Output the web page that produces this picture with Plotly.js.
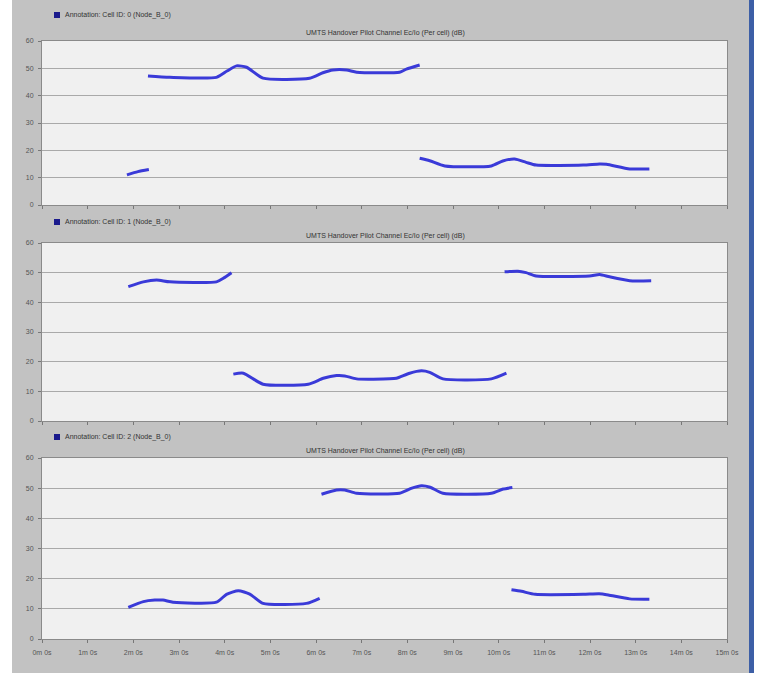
<!DOCTYPE html>
<html>
<head>
<meta charset="utf-8">
<script src="https://cdn.plot.ly/plotly-3.0.1.min.js"></script>
<style>
html,body{margin:0;padding:0;background:#ffffff;}
#chart{width:757px;height:673px;}
</style>
</head>
<body>
<div id="chart"></div>
<script>
// time in minutes, values in dB (null separates segments)
var cell0_t = [1.86, 2.10, 2.34, null,
  2.32, 2.80, 3.82, 4.05, 4.26, 4.48, 4.84, 5.86, 6.15, 6.37, 6.67, 6.89, 7.83, 7.98, 8.27, null,
  8.27, 8.49, 8.82, 9.84, 10.09, 10.35, 10.60, 10.82, 11.85, 12.21, 12.36, 12.87, 13.30];
var cell0_v = [11.0, 12.2, 13.0, null,
  47.2, 46.7, 46.7, 49.0, 50.9, 50.4, 46.4, 46.4, 48.4, 49.4, 49.4, 48.6, 48.6, 49.7, 51.2, null,
  17.1, 16.2, 14.3, 14.3, 16.1, 16.8, 15.6, 14.6, 14.6, 15.0, 14.9, 13.2, 13.2];

var cell1_t = [1.89, 2.22, 2.51, 2.80, 3.82, 3.97, 4.15, null,
  4.19, 4.41, 4.84, 5.83, 6.16, 6.45, 6.63, 6.89, 7.61, 7.76, 8.05, 8.31, 8.49, 8.78, 9.84, 10.17, null,
  10.13, 10.42, 10.60, 10.82, 11.99, 12.21, 12.43, 12.87, 13.34];
var cell1_v = [45.3, 46.9, 47.5, 46.9, 46.9, 48.1, 50.0, null,
  15.8, 16.1, 12.4, 12.4, 14.4, 15.3, 15.2, 14.2, 14.2, 14.4, 16.1, 16.9, 16.4, 14.2, 14.2, 16.1, null,
  50.3, 50.5, 50.0, 48.9, 48.9, 49.4, 48.6, 47.3, 47.3];

var cell2_t = [1.89, 2.22, 2.47, 2.65, 2.87, 3.82, 4.04, 4.30, 4.55, 4.84, 5.79, 6.08, null,
  6.12, 6.45, 6.63, 6.89, 7.83, 8.10, 8.31, 8.50, 8.78, 9.84, 10.10, 10.30, null,
  10.28, 10.50, 10.80, 11.85, 12.20, 12.40, 12.87, 13.30];
var cell2_v = [10.5, 12.4, 12.9, 12.9, 12.2, 12.2, 14.8, 16.0, 14.9, 11.8, 11.8, 13.5, null,
  48.0, 49.4, 49.4, 48.3, 48.3, 50.0, 50.8, 50.3, 48.3, 48.3, 49.7, 50.2, null,
  16.3, 15.8, 14.8, 14.8, 15.0, 14.6, 13.3, 13.2];

var legendLabels = ["Annotation: Cell ID: 0 (Node_B_0)", "Annotation: Cell ID: 1 (Node_B_0)", "Annotation: Cell ID: 2 (Node_B_0)"];
var panelTitle = "UMTS Handover Pilot Channel Ec/Io (Per cell) (dB)";
var xTickVals = [0,1,2,3,4,5,6,7,8,9,10,11,12,13,14,15];
var xTickText = ["0m 0s","1m 0s","2m 0s","3m 0s","4m 0s","5m 0s","6m 0s","7m 0s","8m 0s","9m 0s","10m 0s","11m 0s","12m 0s","13m 0s","14m 0s","15m 0s"];
var yTickVals = [0,10,20,30,40,50,60];

var W = 757, H = 673;
function py(p){ return 1 - p / H; }
function px(p){ return p / W; }

var lineColor = "#3a3ad8";
var traces = [
  {x: cell0_t, y: cell0_v, xaxis: "x", yaxis: "y"},
  {x: cell1_t, y: cell1_v, xaxis: "x2", yaxis: "y2"},
  {x: cell2_t, y: cell2_v, xaxis: "x3", yaxis: "y3"}
].map(function(t){
  t.type = "scatter"; t.mode = "lines"; t.connectgaps = false;
  t.line = {color: lineColor, width: 3, shape: "spline", smoothing: 0.6};
  t.showlegend = false; t.hoverinfo = "skip";
  return t;
});

var panels = [
  {top: 41, bottom: 205, legendY: 15, titleY: 33},
  {top: 243, bottom: 421, legendY: 222, titleY: 236},
  {top: 458, bottom: 639, legendY: 437, titleY: 451}
];
var fontFam = "Liberation Sans, Arial, sans-serif";
var layout = {
  width: W, height: H,
  margin: {l: 0, r: 0, t: 0, b: 0},
  paper_bgcolor: "#c2c2c2",
  plot_bgcolor: "#f0f0f0",
  font: {family: fontFam, size: 7, color: "#444"},
  showlegend: false,
  shapes: [
    {type: "rect", xref: "paper", yref: "paper", x0: 0, x1: px(12), y0: 0, y1: 1, fillcolor: "#ffffff", line: {width: 0}},
    {type: "rect", xref: "paper", yref: "paper", x0: px(749), x1: px(754), y0: 0, y1: 1, fillcolor: "#3d5fa6", line: {width: 0}},
    {type: "rect", xref: "paper", yref: "paper", x0: px(754), x1: 1, y0: 0, y1: 1, fillcolor: "#ffffff", line: {width: 0}}
  ],
  annotations: []
};
var xd = [px(42), px(727)];
panels.forEach(function(p, i){
  var sfx = i === 0 ? "" : String(i + 1);
  var xa = {
    domain: xd, range: [0, 15], tickvals: xTickVals, ticktext: xTickText,
    showticklabels: i === 2, ticks: "outside", ticklen: 3, tickcolor: "#777",
    ticklabelstandoff: 4,
    showgrid: false, zeroline: false, showline: true, linecolor: "#8a8a8a", linewidth: 1,
    mirror: true, anchor: "y" + sfx, fixedrange: true,
    tickfont: {size: 7, color: "#555", family: fontFam}
  };
  var ya = {
    domain: [py(p.bottom), py(p.top)], range: [0, 60], tickvals: yTickVals,
    ticks: "outside", ticklen: 3, tickcolor: "#777",
    ticklabelstandoff: 3,
    showgrid: true, gridcolor: "#a9a9a9", gridwidth: 1, zeroline: false,
    showline: true, linecolor: "#8a8a8a", linewidth: 1, mirror: true,
    anchor: "x" + sfx, fixedrange: true,
    tickfont: {size: 7, color: "#555", family: fontFam}
  };
  layout["xaxis" + sfx] = xa;
  layout["yaxis" + sfx] = ya;
  layout.annotations.push({
    xref: "paper", yref: "paper", x: px(385), y: py(p.titleY), xanchor: "center", yanchor: "middle",
    text: panelTitle, showarrow: false, font: {size: 7, color: "#333", family: fontFam}
  });
  layout.annotations.push({
    xref: "paper", yref: "paper", x: px(63), y: py(p.legendY), xanchor: "left", yanchor: "middle",
    text: legendLabels[i], showarrow: false, font: {size: 7, color: "#333", family: fontFam}
  });
  layout.shapes.push({
    type: "rect", xref: "paper", yref: "paper",
    x0: px(54), x1: px(60), y0: py(p.legendY + 3), y1: py(p.legendY - 3),
    fillcolor: "#1a1a8c", line: {width: 0}
  });
});

Plotly.newPlot("chart", traces, layout, {staticPlot: true, displayModeBar: false});
</script>
</body>
</html>
